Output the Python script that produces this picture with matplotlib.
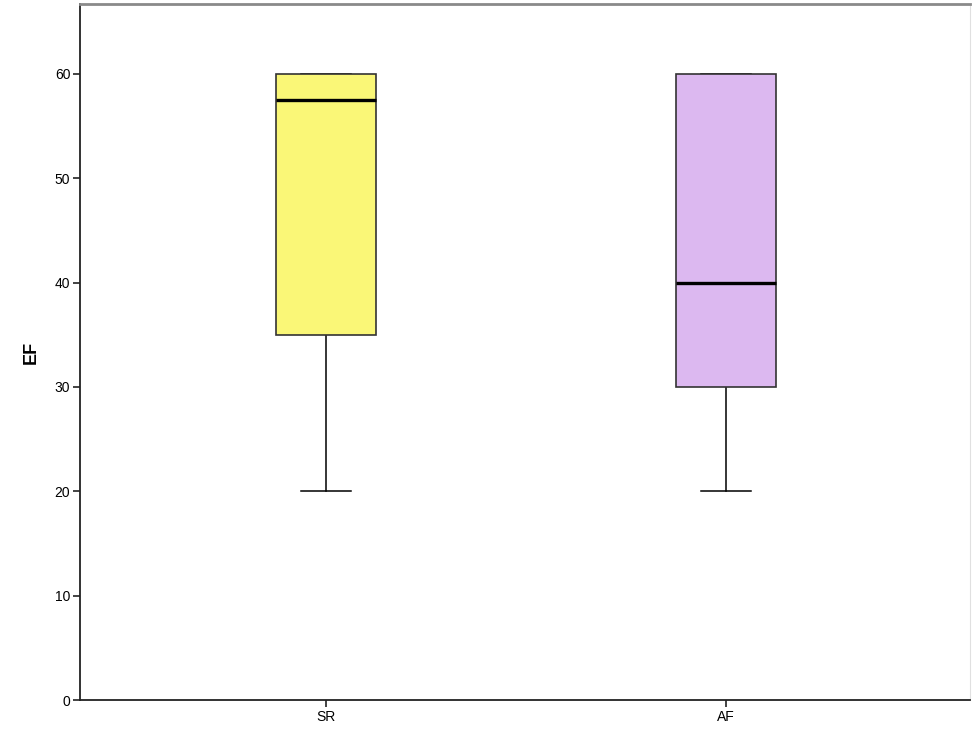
import matplotlib
matplotlib.use("Agg")
import matplotlib.pyplot as plt

# five-number summaries for each group
groups = ["SR", "AF"]
whisker_low = [20, 20]
q1 = [35, 30]
median = [57.5, 40]
q3 = [60, 60]
whisker_high = [60, 60]
box_colors = ["#faf777", "#dcb8f0"]

plt.rcParams['font.family'] = ['Liberation Sans', 'DejaVu Sans']

fig = plt.figure(figsize=(9.72, 7.42), dpi=100)
ax = fig.add_axes([80 / 972, 42 / 742, 890 / 972, 696 / 742])

stats = []
for i, g in enumerate(groups):
    stats.append(dict(label=g, whislo=whisker_low[i], q1=q1[i], med=median[i],
                      q3=q3[i], whishi=whisker_high[i], fliers=[]))

positions = [1, 2]
bp = ax.bxp(stats, positions=positions, widths=0.25, patch_artist=True,
            showfliers=False,
            boxprops=dict(edgecolor='#333333', linewidth=1.2, zorder=3),
            medianprops=dict(color='black', linewidth=2.4, zorder=4),
            whiskerprops=dict(color='black', linewidth=1.1, zorder=2),
            capprops=dict(color='black', linewidth=1.1, zorder=2),
            capwidths=0.125)
for patch, c in zip(bp['boxes'], box_colors):
    patch.set_facecolor(c)

ax.set_xlim(0.385, 2.61)
ax.set_ylim(0, 66.7)
ax.set_yticks([0, 10, 20, 30, 40, 50, 60])
ax.set_xticks(positions)
ax.set_xticklabels(groups)
ax.tick_params(axis='both', direction='out', length=5, width=1.2,
               labelsize=10, color='#222222')
ax.tick_params(axis='y', pad=2)
ax.tick_params(axis='x', pad=2)

ax.set_ylabel("EF", fontsize=13, fontweight='bold', labelpad=11)

ax.spines['left'].set_color('#222222')
ax.spines['bottom'].set_color('#222222')
ax.spines['left'].set_linewidth(1.3)
ax.spines['bottom'].set_linewidth(1.3)
ax.spines['top'].set_color('#8a8a8a')
ax.spines['top'].set_linewidth(2)
ax.spines['right'].set_color('#e0e0e0')
ax.spines['right'].set_linewidth(0.8)

fig.savefig("out.png", dpi=100)
